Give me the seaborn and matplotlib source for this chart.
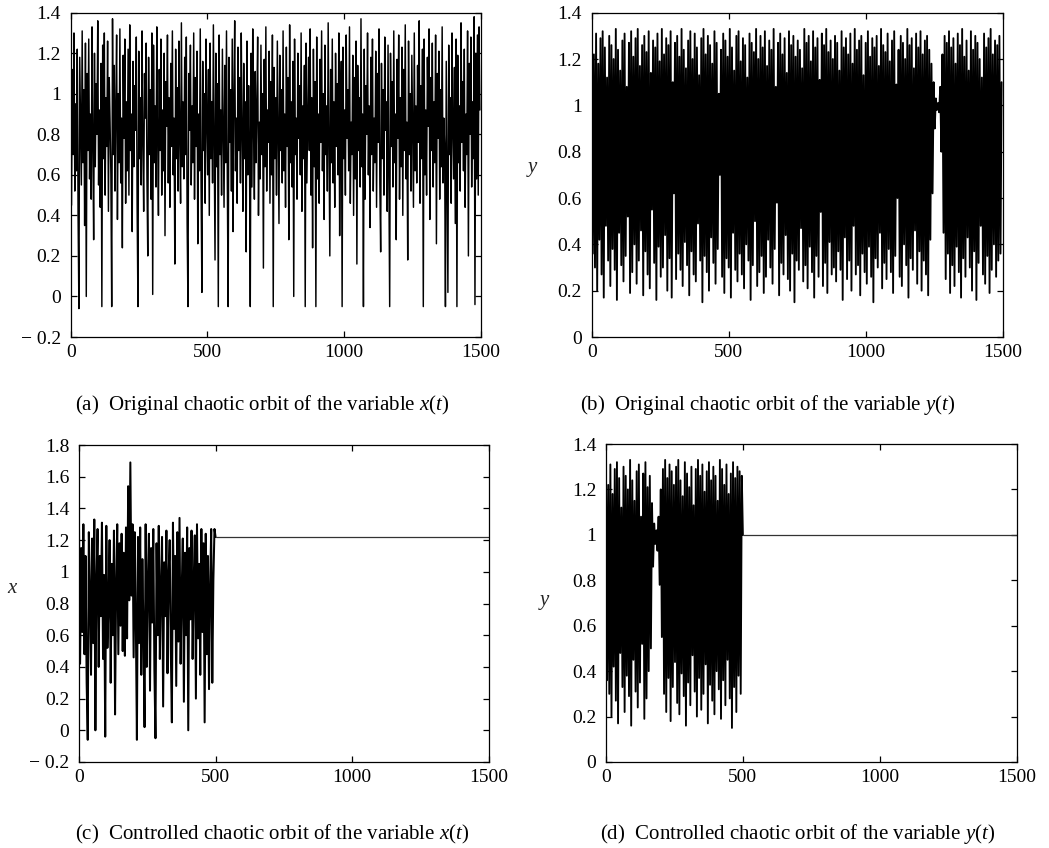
import numpy as np
import pandas as pd
import matplotlib
matplotlib.use("Agg")
import matplotlib.pyplot as plt
import seaborn as sns
from matplotlib.ticker import FuncFormatter, FixedLocator

# ---------------- data (read/estimated from the reference) ----------------
# (a) original x(t), sampled every 3 steps, t = 0..1497
x_orig = [
    1.28, 0.45, 1.12, 0.70, 1.30, 0.52, 0.95, 0.62, 1.22, 0.40,
    -0.06, 1.18, 0.85, 0.55, 1.31, 0.66, 1.02, 0.35, 1.25, 0.00,
    1.10, 0.72, 1.27, 0.58, 0.90, 0.48, 1.33, 0.75, 0.28, 1.20,
    0.64, 1.05, 0.80, 1.36, 0.55, 0.92, 0.44, 1.15, -0.05, 1.24,
    0.68, 1.30, 0.50, 0.98, 0.74, 1.26, 0.42, 1.08, 0.86, 0.60,
    -0.05, 1.37, 0.70, 1.14, 0.52, 0.94, 1.29, 0.38, 1.00, 0.66,
    1.32, 0.56, 0.88, 0.24, 1.19, 0.78, 1.27, 0.46, 0.96, 0.62,
    1.22, 0.50, 1.34, 0.72, 0.90, 0.32, 1.16, 0.64, 1.04, 0.82,
    1.28, 0.45, -0.05, 1.21, 0.68, 0.98, 0.55, 1.31, 0.76, 0.42,
    1.10, 0.88, 1.25, 0.58, 0.20, 1.18, 0.70, 1.02, 0.48, 1.30,
    0.01, 1.24, 0.66, 0.94, 0.54, 1.33, 0.80, 0.40, 1.12, 0.72,
    1.27, 0.50, 0.92, 0.62, 1.20, 0.30, 1.06, 0.84, 1.29, 0.56,
    0.98, 0.44, 1.15, 0.74, 1.31, 0.60, 0.88, 0.16, 1.22, 0.68,
    1.03, 0.52, 1.26, 0.78, 0.46, 1.35, 0.64, 0.96, 0.58, 1.18,
    0.70, 1.28, 0.36, -0.05, 1.10, 0.82, 1.24, 0.55, 0.94, 0.66,
    1.30, 0.48, 1.08, 0.74, 1.21, 0.26, 0.90, 0.62, 1.32, 0.54,
    0.02, 1.16, 0.72, 1.00, 0.46, 1.27, 0.86, 0.60, 1.12, 0.40,
    1.25, 0.68, 0.96, 0.56, 1.34, 0.78, 0.18, 1.20, 0.64, 1.05,
    -0.05, 1.29, 0.70, 0.92, 0.50, 1.22, 0.84, 0.44, 1.14, 0.66,
    1.31, 0.58, -0.05, 1.18, 0.76, 1.02, 0.52, 1.27, 0.32, 0.98,
    1.36, 0.62, 0.88, 0.46, 1.23, 0.72, 1.08, 0.56, 1.30, 0.80,
    0.42, 1.15, 0.68, 0.96, 0.22, 1.26, 0.60, 1.04, 0.74, -0.05,
    1.20, 0.54, 1.32, 0.82, 0.48, 1.11, 0.66, 0.94, 1.28, 0.40,
    0.86, 0.58, 1.24, 0.70, 1.00, 0.14, 1.17, 0.64, 1.33, 0.52,
    0.92, 0.76, 1.21, 0.46, 1.06, 0.60, 1.29, -0.05, 1.13, 0.68,
    0.98, 0.50, 1.26, 0.80, 0.36, 1.19, 0.72, 1.02, 0.56, 1.31,
    0.62, 0.90, 0.44, 1.23, 0.74, 1.08, 0.28, 1.34, 0.66, 0.96,
    0.54, 1.16, 0.00, 1.27, 0.70, 0.88, 0.48, 1.20, 0.78, 1.04,
    0.60, 1.30, 0.42, 0.94, 0.68, 1.14, -0.05, 1.25, 0.56, 0.86,
    1.18, 0.72, 1.32, 0.50, 0.98, 0.24, 1.22, 0.64, 1.06, -0.05,
    1.28, 0.58, 0.90, 0.46, 1.17, 0.76, 1.31, 0.62, 1.00, 0.38,
    1.24, 0.70, 0.94, 0.52, 1.35, 0.80, 0.20, 1.12, 0.66, 1.27,
    0.56, 0.96, 0.44, 1.20, 0.74, 1.05, 0.60, 1.30, 0.30, 0.88,
    1.16, -0.05, 1.23, 0.68, 0.92, 0.50, 1.29, 0.78, 1.02, 0.62,
    1.33, 0.46, 0.86, 0.70, 1.19, 0.40, 1.08, 0.58, 1.26, 0.16,
    1.14, 0.72, 0.98, 0.54, 1.37, 0.64, 0.90, -0.05, 1.22, 0.48,
    1.04, 0.80, 1.30, 0.60, 0.94, 0.34, 1.18, 0.70, 1.27, 0.52,
    0.88, 0.66, 1.21, 0.44, 1.10, 0.76, 1.32, 0.56, 0.22, 1.15,
    0.68, 1.02, 0.50, 1.28, 0.82, 0.96, 0.42, 1.24, 0.62, -0.05,
    1.20, 0.74, 1.06, 0.54, 1.31, 0.66, 0.90, 0.28, 1.17, 0.78,
    1.29, 0.48, 0.98, 0.64, 1.23, 0.40, 1.12, 0.72, 1.34, 0.58,
    0.86, 0.18, 1.26, 0.70, 1.00, 0.52, 1.19, 0.80, 0.44, 1.30,
    0.62, 0.94, 0.56, 1.14, 0.76, 1.36, 0.46, 1.04, 0.68, 1.22,
    -0.05, 1.27, 0.60, 0.92, 0.50, 1.18, 0.84, 1.32, 0.38, 1.08,
    0.72, 1.25, 0.54, 0.96, 0.66, 1.29, 0.26, 1.10, 0.78, 1.21,
    0.48, 1.02, 0.64, 1.33, 0.56, 0.88, 0.74, -0.05, 1.16, 0.60,
    0.02, 1.24, 0.70, 0.98, 0.46, 1.30, 0.82, 0.58, 1.13, 0.36,
    1.27, -0.05, 1.19, 0.66, 0.94, 0.52, 1.35, 0.76, 1.06, 0.62,
    1.22, 0.44, 0.90, 0.70, 1.31, 0.20, 1.15, 0.80, 1.28, 0.54,
    0.96, 0.68, 1.38, -0.04, 1.20, 0.58, 1.29, 0.50, 1.33, 0.92,
]

# (b) original y(t), sampled every 4 steps, t = 0..1496
y_orig = [
    1.27, 0.36, 1.22, 0.30, 1.31, 0.20, 1.18, 0.42, 1.29, 0.27,
    1.32, 0.17, 1.25, 0.48, 1.12, 0.33, 1.30, 0.22, 1.26, 0.38,
    1.20, 0.29, 1.33, 0.16, 1.24, 0.45, 1.15, 0.31, 1.28, 0.24,
    1.31, 0.35, 1.08, 0.52, 1.27, 0.19, 1.32, 0.28, 1.21, 0.40,
    1.29, 0.23, 1.33, 0.33, 1.17, 0.46, 1.26, 0.18, 1.30, 0.37,
    1.23, 0.27, 1.32, 0.21, 1.14, 0.55, 1.28, 0.32, 1.25, 0.16,
    1.31, 0.39, 1.19, 0.26, 1.33, 0.30, 1.22, 0.44, 1.29, 0.20,
    1.26, 0.34, 1.32, 0.17, 1.10, 0.62, 1.27, 0.25, 1.30, 0.36,
    1.21, 0.29, 1.33, 0.22, 1.24, 0.41, 1.16, 0.31, 1.28, 0.18,
    1.32, 0.37, 1.20, 0.27, 1.31, 0.24, 1.25, 0.49, 1.13, 0.33,
    1.29, 0.15, 1.33, 0.35, 1.22, 0.28, 1.30, 0.20, 1.26, 0.43,
    1.18, 0.32, 1.32, 0.23, 1.27, 0.38, 1.05, 0.70, 1.24, 0.26,
    1.31, 0.19, 1.28, 0.34, 1.21, 0.30, 1.33, 0.17, 1.25, 0.45,
    1.15, 0.29, 1.30, 0.24, 1.32, 0.36, 1.19, 0.27, 1.29, 0.21,
    1.26, 0.40, 1.12, 0.33, 1.31, 0.16, 1.27, 0.31, 1.23, 0.50,
    1.33, 0.22, 1.20, 0.28, 1.30, 0.35, 1.25, 0.19, 1.32, 0.26,
    1.17, 0.42, 1.28, 0.30, 1.24, 0.23, 1.33, 0.38, 1.08, 0.58,
    1.27, 0.18, 1.31, 0.32, 1.22, 0.27, 1.29, 0.44, 1.14, 0.25,
    1.32, 0.20, 1.26, 0.36, 1.30, 0.15, 1.21, 0.33, 1.28, 0.29,
    1.24, 0.47, 1.16, 0.24, 1.33, 0.31, 1.27, 0.21, 1.30, 0.39,
    1.19, 0.28, 1.32, 0.17, 1.25, 0.35, 1.29, 0.26, 1.11, 0.54,
    1.31, 0.22, 1.26, 0.32, 1.33, 0.19, 1.23, 0.41, 1.28, 0.27,
    1.20, 0.30, 1.30, 0.24, 1.27, 0.37, 1.15, 0.29, 1.32, 0.16,
    1.25, 0.43, 1.29, 0.25, 1.22, 0.33, 1.31, 0.20, 1.18, 0.48,
    1.33, 0.27, 1.24, 0.31, 1.28, 0.18, 1.30, 0.36, 1.13, 0.28,
    1.27, 0.23, 1.32, 0.39, 1.21, 0.26, 1.29, 0.15, 1.25, 0.34,
    1.30, 0.30, 1.17, 0.45, 1.33, 0.21, 1.26, 0.32, 1.23, 0.25,
    1.31, 0.38, 1.19, 0.28, 1.28, 0.19, 1.32, 0.35, 1.09, 0.60,
    1.24, 0.26, 1.30, 0.22, 1.27, 0.40, 1.20, 0.31, 1.33, 0.17,
    1.26, 0.34, 1.29, 0.29, 1.16, 0.46, 1.31, 0.23, 1.25, 0.37,
    1.32, 0.20, 1.22, 0.33, 1.28, 0.27, 1.30, 0.18, 1.24, 0.42,
    1.18, 0.62, 1.10, 0.90, 1.03, 0.98, 1.01, 0.97, 1.08, 0.80,
    1.22, 0.45, 1.30, 0.25, 1.27, 0.36, 1.32, 0.19, 1.25, 0.31,
    1.29, 0.22, 1.18, 0.39, 1.31, 0.28, 1.26, 0.17, 1.33, 0.34,
    1.21, 0.26, 1.28, 0.43, 1.15, 0.30, 1.32, 0.20, 1.24, 0.37,
    1.30, 0.16, 1.27, 0.32, 1.20, 0.48, 1.12, 0.27, 1.31, 0.23,
    1.25, 0.35, 1.29, 0.19, 1.33, 0.29, 1.22, 0.40, 1.28, 0.26,
    1.26, 0.33, 1.30, 0.36, 1.10,
]

# (c) controlled x(t): chaotic part, sampled every 4 steps, t = 0..496
x_ctrl = [
    1.28, 0.42, 1.15, 0.62, 1.30, 0.48, 1.10, 0.30, -0.06, 1.25,
    0.88, 0.35, 1.21, 0.55, 1.33, 0.00, 0.95, 1.27, 0.40, 1.10,
    0.72, 1.31, 0.45, 0.98, -0.04, 1.29, 0.52, 0.80, 1.20, 0.30,
    1.05, 0.60, 1.26, 0.10, 0.92, 1.30, 0.48, 1.18, 0.66, 1.24,
    0.50, 1.12, 0.47, 1.28, 0.58, 1.54, 0.82, 1.69, 0.85, 1.30,
    0.46, 1.25, 0.70, -0.06, 1.22, 0.55, 1.28, 0.35, 1.08, 0.62,
    0.02, 1.30, 0.40, 0.95, 1.24, 0.25, 1.15, 0.68, 1.27, 0.38,
    -0.05, 1.18, 0.60, 1.29, 0.45, 0.90, 1.22, 0.15, 1.06, 0.72,
    1.26, 0.36, 0.98, 1.20, 0.52, 0.05, 1.31, 0.64, 1.10, 0.28,
    1.25, 0.56, 1.34, 0.42, 0.88, 1.21, 0.18, 1.12, 0.60, 1.28,
    0.00, 1.15, 0.70, 1.26, 0.45, 0.95, 1.23, 0.20, 1.30, 0.58,
    1.05, 0.35, 1.27, 0.62, 1.18, 0.05, 1.24, 0.48, 1.10, 0.26,
    0.90, 1.27, 0.30, 0.95, 1.27,
]
x_fixed = 1.22   # stabilised value of x after control (t >= 500)

# (d) controlled y(t): chaotic part, sampled every 4 steps, t = 0..496
y_ctrl = [
    1.27, 0.36, 1.22, 0.30, 1.31, 0.20, 1.18, 0.42, 1.29, 0.27,
    1.32, 0.17, 1.25, 0.48, 1.12, 0.33, 1.30, 0.22, 1.26, 0.38,
    1.20, 0.29, 1.33, 0.16, 1.24, 0.45, 1.15, 0.31, 1.28, 0.24,
    1.31, 0.35, 1.08, 0.52, 1.27, 0.19, 1.32, 0.28, 1.21, 0.40,
    1.26, 0.50, 1.14, 0.86, 1.05, 0.96, 1.02, 0.93, 1.08, 0.78,
    1.20, 0.55, 1.29, 0.30, 1.33, 0.22, 1.25, 0.37, 1.31, 0.18,
    1.28, 0.33, 1.22, 0.44, 1.30, 0.26, 1.33, 0.21, 1.24, 0.39,
    1.17, 0.29, 1.32, 0.16, 1.27, 0.35, 1.21, 0.25, 1.30, 0.47,
    1.13, 0.31, 1.29, 0.20, 1.33, 0.37, 1.26, 0.23, 1.31, 0.30,
    1.19, 0.43, 1.28, 0.17, 1.32, 0.34, 1.24, 0.27, 1.30, 0.21,
    1.26, 0.40, 1.15, 0.32, 1.33, 0.19, 1.29, 0.36, 1.22, 0.25,
    1.31, 0.45, 1.18, 0.28, 1.27, 0.15, 1.32, 0.33, 1.25, 0.22,
    1.30, 0.38, 1.28, 0.30, 1.26,
]
y_fixed = 1.0    # stabilised value of y after control (t >= 500)

t_end = 1500
x_ticks = [0, 500, 1000, 1500]
yticks_a = [-0.2, 0, 0.2, 0.4, 0.6, 0.8, 1.0, 1.2, 1.4]
yticks_b = [0, 0.2, 0.4, 0.6, 0.8, 1.0, 1.2, 1.4]
yticks_c = [-0.2, 0, 0.2, 0.4, 0.6, 0.8, 1.0, 1.2, 1.4, 1.6, 1.8]
yticks_d = [0, 0.2, 0.4, 0.6, 0.8, 1.0, 1.2, 1.4]

captions = [
    r"(a)  Original chaotic orbit of the variable $x(t)$",
    r"(b)  Original chaotic orbit of the variable $y(t)$",
    r"(c)  Controlled chaotic orbit of the variable $x(t)$",
    r"(d)  Controlled chaotic orbit of the variable $y(t)$",
]

# ---------------- build data frames ----------------
df_a = pd.DataFrame({"t": np.arange(len(x_orig)) * 3, "v": x_orig})
df_b = pd.DataFrame({"t": np.arange(len(y_orig)) * 4, "v": y_orig})
t_c = np.arange(0, t_end + 1, 4)
df_c = pd.DataFrame({"t": t_c,
                     "v": list(x_ctrl) + [x_fixed] * (len(t_c) - len(x_ctrl))})
t_d = np.arange(0, t_end + 1, 4)
df_d = pd.DataFrame({"t": t_d,
                     "v": list(y_ctrl) + [y_fixed] * (len(t_d) - len(y_ctrl))})

# ---------------- style ----------------
sns.set_theme(style="ticks")
plt.rcParams.update({
    "font.family": ["Liberation Serif", "DejaVu Serif"],
    "mathtext.fontset": "custom",
    "mathtext.rm": "Liberation Serif",
    "mathtext.it": "Liberation Serif:italic",
    "xtick.direction": "in",
    "ytick.direction": "in",
    "xtick.top": True,
    "ytick.right": True,
    "axes.edgecolor": "black",
    "axes.linewidth": 0.9,
    "xtick.color": "black",
    "ytick.color": "black",
    "text.color": "black",
})


def fmt(v, pos):
    if abs(v) < 1e-9:
        return "0"
    s = f"{v:g}"
    if v < 0:
        return "\u2212 " + s[1:]
    return s


fig = plt.figure(figsize=(10.49, 8.48), dpi=100)
W, H = 1049.0, 848.0


def make_ax(l, r, t, b):
    return fig.add_axes([l / W, 1 - b / H, (r - l) / W, (b - t) / H])


ax_a = make_ax(70.7, 480.7, 12.7, 337)
ax_b = make_ax(591.7, 1002.7, 12.7, 337)
ax_c = make_ax(79, 488.7, 445, 762)
ax_d = make_ax(606, 1016.7, 444, 762)

panels = [
    (ax_a, df_a, yticks_a, None, None, None, 1.05),
    (ax_b, df_b, yticks_b, "$y$", (-0.143, 0.487), None, 1.35),
    (ax_c, df_c, yticks_c, "$x$", (-0.161, 0.517), len(x_ctrl), 1.45),
    (ax_d, df_d, yticks_d, "$y$", (-0.1485, 0.472), len(y_ctrl), 1.35),
]

for ax, df, yt, lab, labpos, n_chaos, lw in panels:
    if n_chaos is None:
        sns.lineplot(data=df, x="t", y="v", ax=ax, color="black",
                     linewidth=lw, estimator=None, sort=False, legend=False)
    else:
        sns.lineplot(data=df.iloc[:n_chaos + 1], x="t", y="v", ax=ax,
                     color="black", linewidth=lw, estimator=None,
                     sort=False, legend=False)
        sns.lineplot(data=df.iloc[n_chaos:], x="t", y="v", ax=ax,
                     color="#333333", linewidth=0.9, estimator=None,
                     sort=False, legend=False)
    ax.set_xlim(0, t_end)
    ax.set_ylim(yt[0], yt[-1])
    ax.xaxis.set_major_locator(FixedLocator(x_ticks))
    ax.yaxis.set_major_locator(FixedLocator(yt))
    ax.xaxis.set_major_formatter(FuncFormatter(fmt))
    ax.yaxis.set_major_formatter(FuncFormatter(fmt))
    ax.tick_params(axis="both", which="major", length=4, width=0.9,
                   labelsize=14, top=True, right=True)
    ax.tick_params(axis="y", pad=7)
    ax.tick_params(axis="x", pad=5)
    ax.set_xlabel("")
    if lab:
        ax.set_ylabel(lab, rotation=0, fontsize=15)
        ax.yaxis.set_label_coords(*labpos)
    else:
        ax.set_ylabel("")
    for sp in ax.spines.values():
        sp.set_visible(True)
        sp.set_color("black")
        sp.set_linewidth(0.9)

cap_pos = [(262, 405), (768, 405), (272, 834), (798, 834)]
for (cx, cy), txt in zip(cap_pos, captions):
    fig.text(cx / W, 1 - cy / H, txt, ha="center", va="center", fontsize=15)

fig.savefig("out.png", dpi=100, facecolor="white")
